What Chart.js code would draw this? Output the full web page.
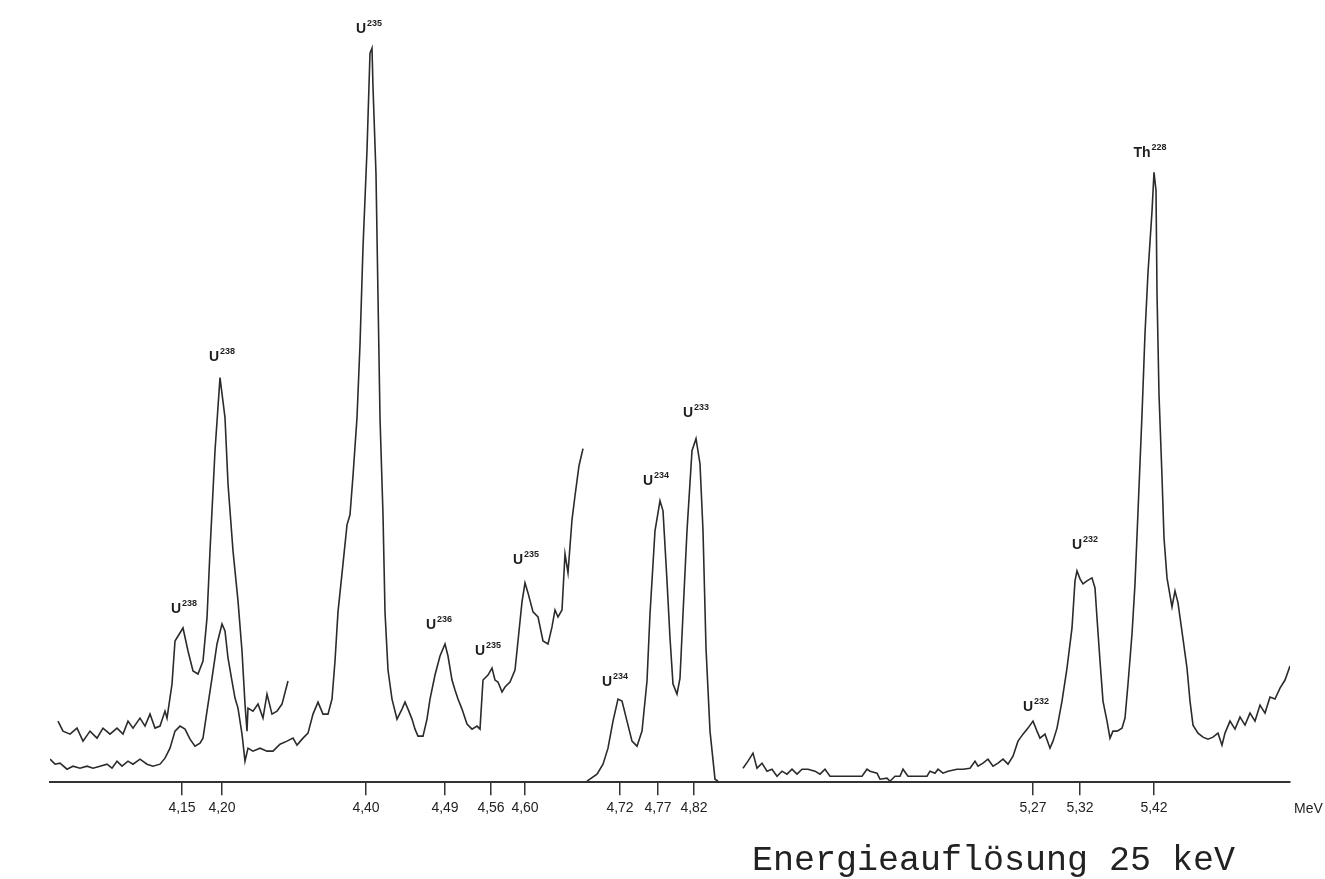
<!DOCTYPE html>
<html lang="de">
<head>
<meta charset="utf-8">
<title>Alpha-Spektrum</title>
<script src="https://cdn.jsdelivr.net/npm/chart.js@4/dist/chart.umd.min.js"></script>
<style>
  html, body { margin: 0; padding: 0; background: #ffffff; }
  #wrap { width: 1325px; height: 879px; position: relative; }
</style>
</head>
<body>
<div id="wrap"><canvas id="c" width="1325" height="879"></canvas></div>
<script>
// ---- Data (x = channel position along the energy axis, y = counts, arbitrary units) ----
const tickChannels = [182, 222, 366, 445, 491, 525, 620, 658, 694, 1033, 1080, 1154];
const tickLabels   = ['4,15', '4,20', '4,40', '4,49', '4,56', '4,60', '4,72', '4,77', '4,82', '5,27', '5,32', '5,42'];
const axisUnit = 'MeV';
const caption = 'Energieauflösung 25 keV';

// upper trace (higher gain), U-238 region
const upperLeft = [
  [58,61],[63,51],[70,48],[77,54],[83,41],[90,51],[97,44],[103,54],[110,48],[117,54],[123,48],[128,61],
  [133,54],[140,64],[145,56],[150,68],[155,54],[160,56],[165,71],[167,64],[172,98],[175,141],[183,154],
  [188,131],[193,111],[198,108],[203,121],[207,164],[210,231],[215,331],[220,404],[225,364],[228,298],
  [233,231],[238,181],[242,131],[245,78],[247,51],[248,74],[253,71],[258,78],[263,64],[267,88],[272,68],
  [277,71],[282,78],[288,101]
];

// lower trace: U-238, U-235, U-236 region
const lowerMain = [
  [50,23],[55,18],[60,19],[67,13],[73,16],[80,14],[87,16],[93,14],[100,16],[107,18],[112,14],[117,21],
  [122,16],[128,21],[133,18],[140,23],[147,18],[153,16],[160,18],[165,24],[170,34],[175,51],[180,56],
  [185,53],[190,43],[195,36],[200,39],[203,44],[207,71],[212,104],[217,138],[222,158],[225,151],[228,124],
  [232,101],[235,84],[238,74],[242,48],[245,21],[248,34],[253,31],[260,34],[267,31],[273,31],[280,38],
  [287,41],[293,44],[297,37],[303,44],[308,49],[313,68],[318,80],[323,68],[328,68],[332,83],[335,121],
  [338,170],[343,218],[347,257],[350,267],[353,306],[357,364],[360,437],[363,534],[367,631],[370,728],
  [372,733],[373,694],[376,607],[378,485],[380,364],[383,267],[385,170],[388,112],[392,83],[397,63],
  [402,73],[405,80],[408,73],[412,63],[415,53],[418,46],[423,46],[427,63],[430,83],[435,107],[440,126],
  [445,138],[448,126],[452,102],[455,92],[458,83],[462,73],[467,58],[472,53],[477,56],[480,53],[483,102],
  [488,107],[492,114],[495,102],[498,100],[502,90],[505,95],[510,100],[515,112],[518,141],[522,180],
  [525,199],[528,189],[533,170],[538,165],[543,141],[548,138],[552,155],[555,172],[558,165],[562,172],
  [565,228],[568,209],[572,262],[575,286],[579,316],[583,333]
];

// U-234 / U-233 group
const uGroup = [
  [587,1],[597,8],[603,18],[608,34],[613,61],[618,83],[622,81],[627,61],[632,41],[637,36],[642,51],
  [647,101],[650,168],[655,251],[660,281],[663,271],[667,201],[670,144],[673,98],[677,88],[680,104],
  [683,168],[687,251],[692,331],[696,343],[700,318],[703,251],[706,134],[710,51],[715,3],[718,1]
];

// high-energy region: U-232, Th-228
const rightSpectrum = [
  [743,14],[748,21],[753,29],[757,14],[762,19],[767,11],[772,13],[777,6],[782,11],[787,8],[792,13],
  [797,8],[802,13],[808,13],[815,11],[820,8],[825,13],[830,6],[840,6],[850,6],[862,6],[867,13],[870,11],
  [877,9],[880,3],[887,4],[890,1],[895,6],[900,6],[903,13],[908,6],[917,6],[927,6],[930,11],[935,9],
  [938,13],[943,9],[948,11],[957,13],[963,13],[970,14],[975,21],[978,16],[983,19],[988,23],[993,16],
  [998,19],[1003,23],[1008,18],[1013,26],[1018,41],[1023,48],[1028,54],[1033,61],[1037,51],[1040,44],
  [1045,48],[1050,34],[1053,41],[1057,54],[1062,81],[1067,114],[1072,154],[1075,201],[1077,211],
  [1080,203],[1083,198],[1087,201],[1092,204],[1095,194],[1097,164],[1100,121],[1103,81],[1107,61],
  [1110,44],[1113,51],[1117,51],[1122,54],[1125,64],[1128,98],[1132,148],[1135,198],[1138,270],
  [1142,367],[1145,448],[1148,509],[1152,570],[1154,609],[1156,591],[1157,489],[1159,387],[1162,305],
  [1164,244],[1167,204],[1172,175],[1175,191],[1178,179],[1183,143],[1187,114],[1190,81],[1193,57],
  [1198,49],[1203,45],[1208,43],[1213,45],[1218,49],[1222,37],[1225,49],[1230,61],[1235,53],[1240,65],
  [1245,57],[1250,69],[1255,61],[1260,77],[1265,69],[1270,85],[1275,83],[1280,94],[1285,102],[1290,116]
];

// peak annotations: [channel, counts, element, mass number]
const peakLabels = [
  [184, 175, 'U', '238'], [222, 427, 'U', '238'], [369, 754, 'U', '235'], [439, 159, 'U', '236'],
  [488, 133, 'U', '235'], [526, 224, 'U', '235'], [615, 102, 'U', '234'], [656, 303, 'U', '234'],
  [696, 371, 'U', '233'], [1036, 77, 'U', '232'], [1085, 239, 'U', '232'], [1150, 630, 'Th', '228']
];

// ---- Chart ----
const toPts = arr => arr.map(p => ({ x: p[0], y: p[1] }));
const lineStyle = { borderColor: '#2b2b2b', borderWidth: 1.6, pointRadius: 0, tension: 0, fill: false };

const annotate = {
  id: 'annotate',
  afterDraw(chart) {
    const ctx = chart.ctx;
    const xs = chart.scales.x, ys = chart.scales.y;
    ctx.save();
    ctx.fillStyle = '#1e1e1e';
    ctx.textBaseline = 'alphabetic';
    peakLabels.forEach(([cx, cy, el, mass]) => {
      const px = xs.getPixelForValue(cx), py = ys.getPixelForValue(cy);
      ctx.font = 'bold 14px "Liberation Sans", Arial, sans-serif';
      const wEl = ctx.measureText(el).width;
      ctx.font = 'bold 9px "Liberation Sans", Arial, sans-serif';
      const wM = ctx.measureText(mass).width;
      const left = px - (wEl + wM + 1) / 2;
      ctx.font = 'bold 14px "Liberation Sans", Arial, sans-serif';
      ctx.textAlign = 'left';
      ctx.fillText(el, left, py + 6);
      ctx.font = 'bold 9px "Liberation Sans", Arial, sans-serif';
      ctx.fillText(mass, left + wEl + 1, py - 1);
    });
    // axis unit, on the tick-label row
    ctx.font = '14px "Liberation Sans", Arial, sans-serif';
    ctx.textAlign = 'left';
    ctx.textBaseline = 'middle';
    ctx.fillText(axisUnit, xs.right + 4, xs.top + 27);
    // caption
    ctx.font = '35px "Liberation Mono", "DejaVu Sans Mono", monospace';
    ctx.fillStyle = '#222';
    ctx.textAlign = 'left';
    ctx.textBaseline = 'middle';
    ctx.fillText(caption, 752, 861);
    ctx.restore();
  }
};

new Chart(document.getElementById('c'), {
  type: 'line',
  data: {
    datasets: [
      Object.assign({ label: 'obere Kurve', data: toPts(upperLeft) }, lineStyle),
      Object.assign({ label: 'untere Kurve', data: toPts(lowerMain) }, lineStyle),
      Object.assign({ label: 'U234/U233', data: toPts(uGroup) }, lineStyle),
      Object.assign({ label: 'U232/Th228', data: toPts(rightSpectrum) }, lineStyle)
    ]
  },
  options: {
    responsive: false,
    animation: false,
    devicePixelRatio: 1,
    layout: { padding: { left: 50, right: 35, top: 0, bottom: 57 } },
    plugins: { legend: { display: false }, tooltip: { enabled: false }, title: { display: false } },
    scales: {
      x: {
        type: 'linear',
        min: 50,
        max: 1290,
        afterBuildTicks: axis => { axis.ticks = tickChannels.map(v => ({ value: v })); },
        ticks: {
          autoSkip: false,
          maxRotation: 0,
          padding: 5,
          color: '#222',
          font: { family: '"Liberation Sans", Arial, sans-serif', size: 14 },
          callback: v => { const i = tickChannels.indexOf(v); return i >= 0 ? tickLabels[i] : ''; }
        },
        grid: { drawOnChartArea: false, drawTicks: true, tickLength: 13, color: '#333', lineWidth: 1.5 },
        border: { display: true, color: '#333', width: 2 }
      },
      y: { type: 'linear', min: 0, max: 781, display: false }
    }
  },
  plugins: [annotate]
});
</script>
</body>
</html>
